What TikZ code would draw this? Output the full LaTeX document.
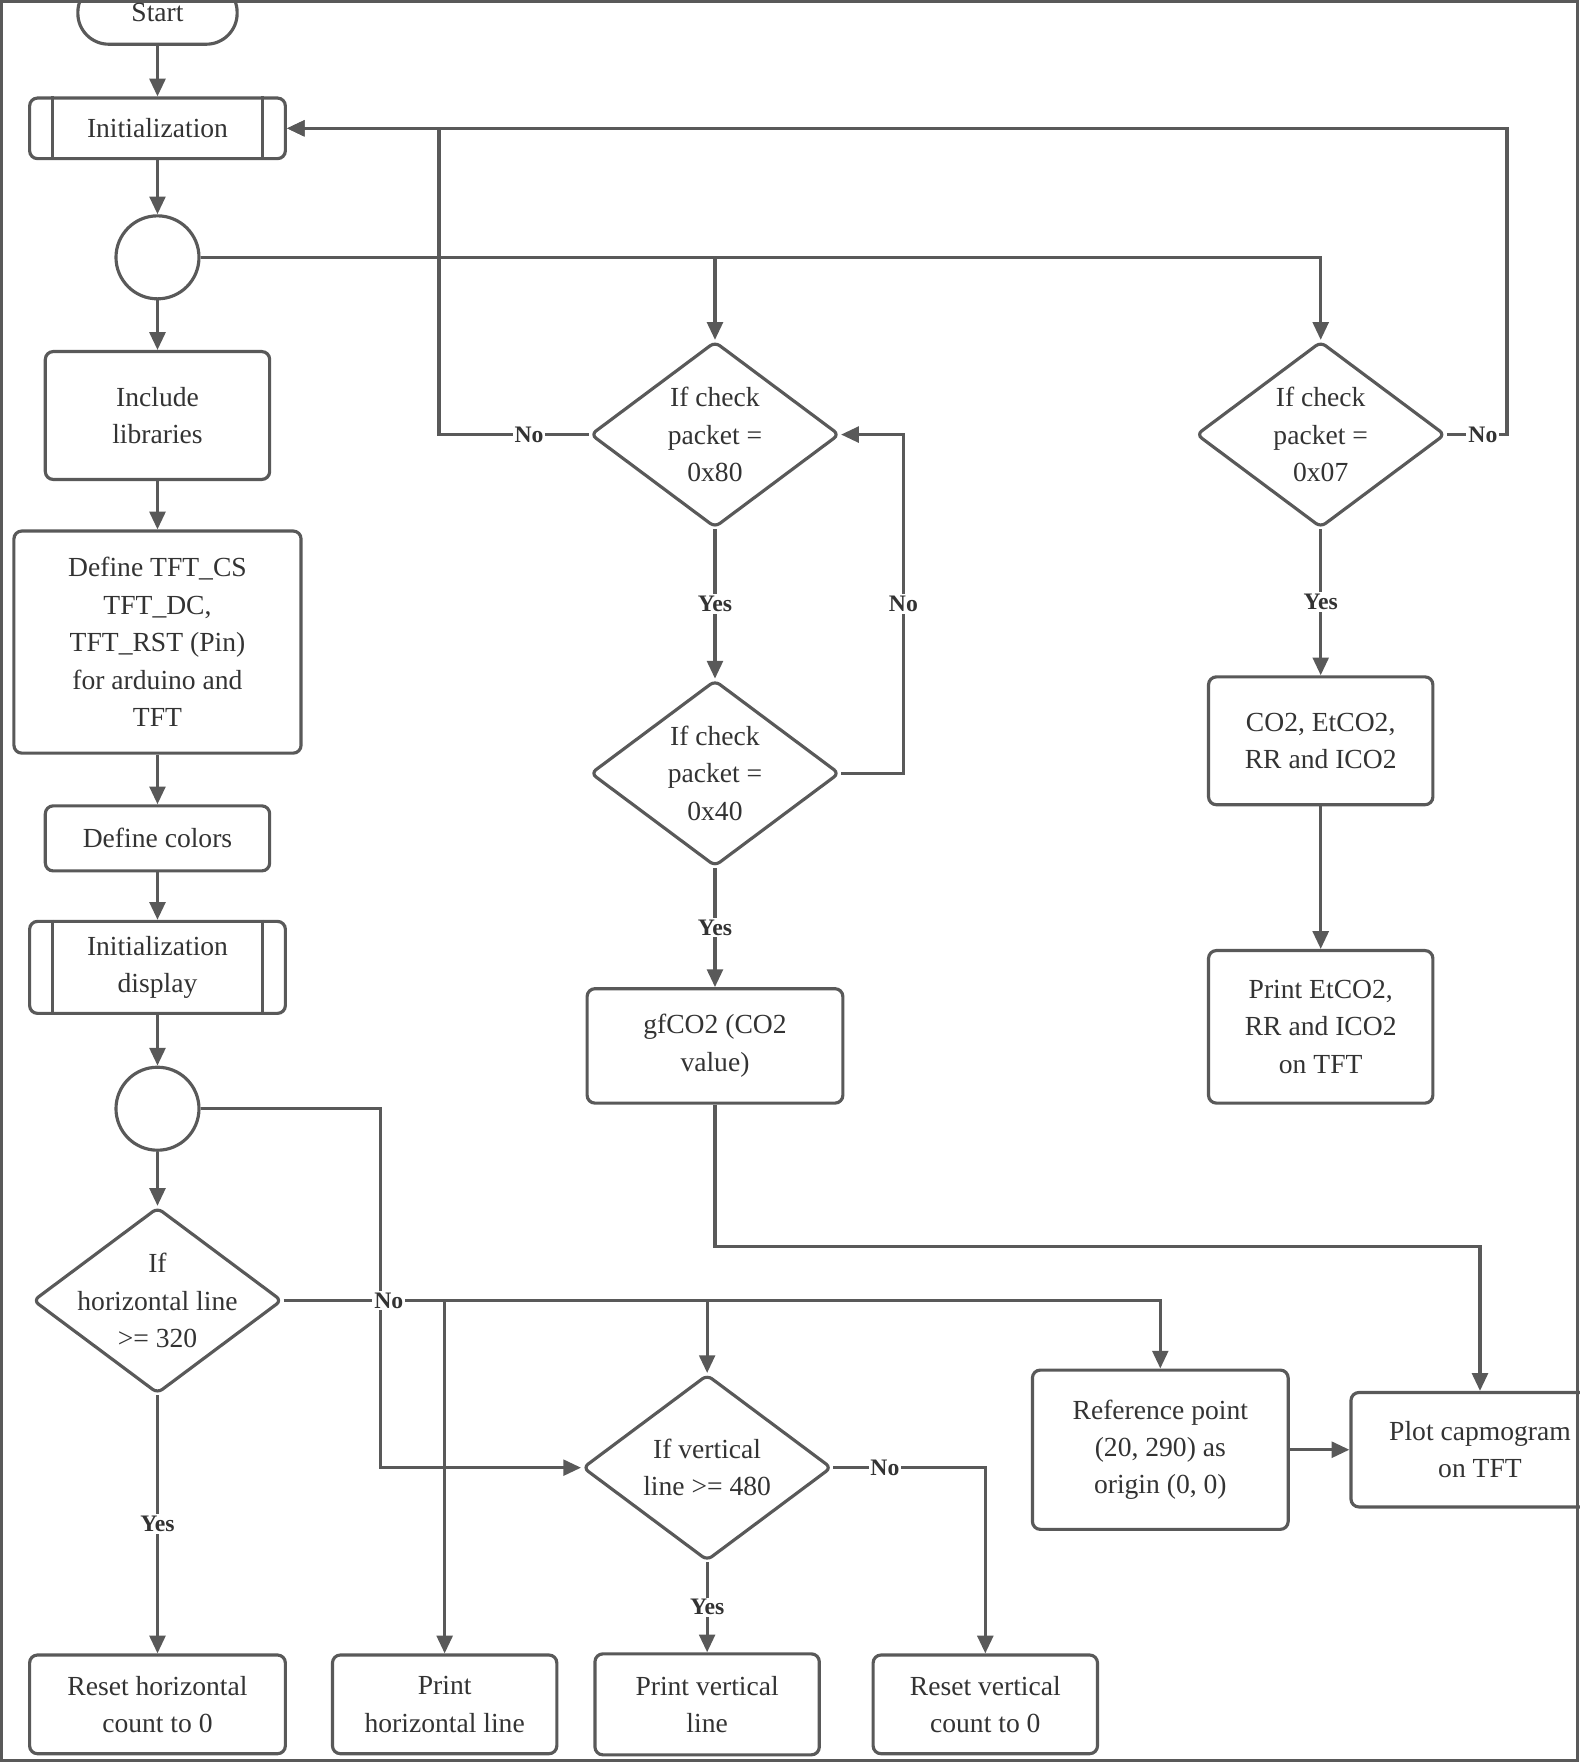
\documentclass[tikz,border=0pt]{standalone}
\usepackage{fontspec}
\setmainfont{Liberation Serif}
\usetikzlibrary{shapes.geometric,arrows.meta}
\definecolor{ln}{HTML}{595959}
\definecolor{tx}{HTML}{333333}
\begin{document}
\begin{tikzpicture}[x=0.02cm, y=-0.02cm, >={Triangle[length=9pt,width=8pt]},
  font=\fontsize{14}{19}\selectfont, text=tx,
  every path/.style={draw=ln, line width=1.6pt},
  box/.style 2 args={rectangle, draw, rounded corners=4pt, align=center,
    minimum width=#1*0.02cm, minimum height=#2*0.02cm, inner sep=2pt},
  dia/.style={diamond, draw, rounded corners=3pt, minimum width=222*0.02cm,
    minimum height=166*0.02cm, inner sep=0pt},
  con/.style={circle, draw, minimum size=74*0.02cm, inner sep=0pt},
  arr/.style={->},
  lbl/.style={fill=white, inner sep=1pt, font=\fontsize{12}{14}\selectfont\bfseries}]
\useasboundingbox (0,0) rectangle (1405,1568);

% left column
\node [box={142}{56}, rounded corners=0.55cm] (start) at (139,10) {Start};
\node [box={228}{54}] (init) at (139,113) {Initialization};
\node [con] (c1) at (139,228) {};
\node [box={200}{114}] (incl) at (139,369) {Include\\libraries};
\node [box={256}{198}] (deftft) at (139,571) {Define TFT\_CS\\TFT\_DC,\\TFT\_RST (Pin)\\for arduino and\\TFT};
\node [box={200}{58}] (colors) at (139,746) {Define colors};
\node [box={228}{82}] (initdisp) at (139,861) {Initialization\\display};
\node [con] (c2) at (139,987) {};
\node [dia, label={[align=center]center:If\\horizontal line\\>= 320}] (dh) at (139,1158) {};

% packet checks
\node [dia, label={[align=center]center:If check\\packet =\\0x80}] (d80) at (636,386) {};
\node [dia, label={[align=center]center:If check\\packet =\\0x40}] (d40) at (636,688) {};
\node [box={228}{102}] (gf) at (636,931) {gfCO2 (CO2\\value)};
\node [dia, label={[align=center]center:If check\\packet =\\0x07}] (d07) at (1176,386) {};
\node [box={200}{114}] (co2) at (1176,659) {CO2, EtCO2,\\RR and ICO2};
\node [box={200}{136}] (print) at (1176,914) {Print EtCO2,\\RR and ICO2\\on TFT};

% bottom
\node [dia, label={[align=center]center:If vertical\\line >= 480}] (dv) at (629,1307) {};
\node [box={228}{142}] (ref) at (1033,1291) {Reference point\\(20, 290) as\\origin (0, 0)};
\node [box={230}{102}] (plot) at (1318,1291) {Plot capmogram\\on TFT};
\node [box={228}{88}] (rh) at (139,1518) {Reset horizontal\\count to 0};
\node [box={200}{88}] (ph) at (395,1518) {Print\\horizontal line};
\node [box={200}{90}] (pv) at (629,1518) {Print vertical\\line};
\node [box={200}{88}] (rv) at (877,1518) {Reset vertical\\count to 0};

% predefined process bars
\draw ([xshift=22*0.02cm]init.north west) -- ([xshift=22*0.02cm]init.south west);
\draw ([xshift=-22*0.02cm]init.north east) -- ([xshift=-22*0.02cm]init.south east);
\draw ([xshift=22*0.02cm]initdisp.north west) -- ([xshift=22*0.02cm]initdisp.south west);
\draw ([xshift=-22*0.02cm]initdisp.north east) -- ([xshift=-22*0.02cm]initdisp.south east);

\coordinate (nL) at (390,386);
\coordinate (nR) at (1342,386);
\coordinate (lp) at (804,688);
\coordinate (gp) at (636,1110);
\coordinate (c2e) at (338,987);

% main flow
\draw [arr] (start) -- (init);
\draw [arr] (init) -- (c1);
\draw [arr] (c1) -- (incl);
\draw [arr] (incl) -- (deftft);
\draw [arr] (deftft) -- (colors);
\draw [arr] (colors) -- (initdisp);
\draw [arr] (initdisp) -- (c2);
\draw [arr] (c2) -- (dh);

\draw [arr] (c1.east) -| (d80.north);
\draw [arr] (c1.east) -| (d07.north);
\draw [arr] (d80.west) -- node[lbl, pos=0.4]{No} (nL) |- (init.east);
\draw [arr] (d07.east) -- node[lbl, pos=0.6]{No} (nR) |- (init.east);
\draw [arr] (d80) -- node[lbl]{Yes} (d40);
\draw [arr] (d40.east) -- (lp) -- node[lbl]{No} (lp |- d80.east) -- (d80.east);
\draw [arr] (d40) -- node[lbl]{Yes} (gf);
\draw [arr] (gf.south) -- (gp) -| (plot.north);
\draw [arr] (d07) -- node[lbl]{Yes} (co2);
\draw [arr] (co2) -- (print);

\draw [arr] (c2.east) -- (c2e) |- (dv.west);
\draw [arr] (dh.east) -| node[lbl, pos=0.06]{No} (ref.north);
\draw [arr] (dh.east -| ph.north) -- (ph.north);
\draw [arr] (dh.east -| dv.north) -- (dv.north);
\draw [arr] (dh) -- node[lbl]{Yes} (rh);
\draw [arr] (dv.east) -| node[lbl, pos=0.17]{No} (rv.north);
\draw [arr] (dv) -- node[lbl]{Yes} (pv);
\draw [arr] (ref) -- (plot);
\end{tikzpicture}
\end{document}
